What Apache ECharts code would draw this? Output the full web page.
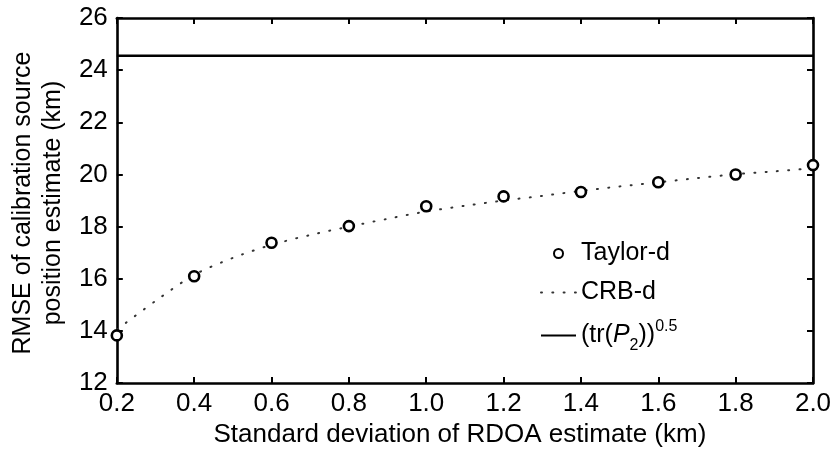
<!DOCTYPE html>
<html>
<head>
<meta charset="utf-8">
<script src="https://cdn.jsdelivr.net/npm/echarts@6/dist/echarts.min.js"></script>
<style>
html,body{margin:0;padding:0;background:#fff;}
#chart{width:835px;height:453px;}
</style>
</head>
<body>
<div id="chart"></div>
<script>
// ---- data ----
const taylorX = [0.2, 0.4, 0.6, 0.8, 1.0, 1.2, 1.4, 1.6, 1.8, 2.0];
const taylorY = [13.83, 16.1, 17.38, 18.02, 18.78, 19.16, 19.33, 19.7, 20.0, 20.36];
const crbX = [0.2, 0.3, 0.4, 0.5, 0.6, 0.7, 0.8, 0.9, 1.0, 1.1, 1.2, 1.3, 1.4, 1.5, 1.6, 1.7, 1.8, 1.9, 2.0];
const crbY = [14.05, 15.15, 16.15, 16.8, 17.3, 17.68, 18.0, 18.3, 18.58, 18.8, 19.0, 19.18, 19.37, 19.54, 19.7, 19.86, 20.01, 20.12, 20.24];
const boundX = [0.2, 2.0];
const boundValue = 24.55;
const xTicks = [0.2, 0.4, 0.6, 0.8, 1.0, 1.2, 1.4, 1.6, 1.8, 2.0];
const yTicks = [12, 14, 16, 18, 20, 22, 24, 26];
const seriesNames = ['Taylor-d', 'CRB-d', '(tr(P2))0.5'];

const FONT = 'Liberation Sans, Arial, Helvetica, sans-serif';
const chart = echarts.init(document.getElementById('chart'), null, {renderer: 'canvas'});

const axisCommon = {
  axisLine: {show: true, lineStyle: {color: '#000', width: 2.6}},
  axisTick: {show: true, inside: true, length: 6, lineStyle: {color: '#000', width: 2}},
  splitLine: {show: false}
};

const option = {
  backgroundColor: '#fff',
  animation: false,
  grid: {left: 112, right: 22, top: 18, bottom: 69, containLabel: false},
  xAxis: [
    Object.assign({
      type: 'value', min: xTicks[0], max: xTicks[xTicks.length - 1], interval: 0.2,
      name: 'Standard deviation of RDOA estimate (km)',
      nameLocation: 'middle', nameGap: 33,
      nameTextStyle: {fontSize: 26, fontFamily: FONT, color: '#000', padding: [0, 10, 0, 0]},
      axisLabel: {fontSize: 26, fontFamily: FONT, color: '#000', margin: 8,
        formatter: v => v.toFixed(1)}
    }, axisCommon),
    Object.assign({
      type: 'value', position: 'top', min: xTicks[0], max: xTicks[xTicks.length - 1], interval: 0.2,
      axisLabel: {show: false}
    }, axisCommon)
  ],
  yAxis: [
    Object.assign({
      type: 'value', min: yTicks[0], max: yTicks[yTicks.length - 1], interval: 2,
      name: 'RMSE of calibration source\nposition estimate (km)',
      nameLocation: 'middle', nameGap: 46, nameRotate: 90,
      nameTextStyle: {fontSize: 25, fontFamily: FONT, color: '#000', lineHeight: 30, padding: [0, 5, 0, 0]},
      axisLabel: {fontSize: 26, fontFamily: FONT, color: '#000', margin: 9}
    }, axisCommon),
    Object.assign({
      type: 'value', position: 'right', min: yTicks[0], max: yTicks[yTicks.length - 1], interval: 2,
      axisLabel: {show: false}
    }, axisCommon)
  ],
  legend: {
    orient: 'vertical', left: 540, top: 241, padding: 0,
    itemWidth: 35, itemHeight: 9, itemGap: 14,
    data: [
      {name: seriesNames[0]},
      {name: seriesNames[1], itemStyle: {opacity: 0}},
      {name: seriesNames[2], itemStyle: {opacity: 0}}
    ],
    textStyle: {
      fontSize: 25, fontFamily: FONT, color: '#000',
      rich: {
        i: {fontSize: 25, fontFamily: FONT, fontStyle: 'italic', color: '#000'},
        sub: {fontSize: 16, fontFamily: FONT, color: '#000', verticalAlign: 'bottom', padding: [0, 0, -6, 0]},
        sup: {fontSize: 16, fontFamily: FONT, color: '#000', verticalAlign: 'top', padding: [-4, 0, 0, 0]}
      }
    },
    formatter: function (name) {
      if (name === seriesNames[2]) return '(tr({i|P}{sub|2}))' + '{sup|0.5}';
      return name;
    }
  },
  series: [
    {
      name: seriesNames[0], type: 'scatter', xAxisIndex: 0, yAxisIndex: 0,
      symbol: 'circle', symbolSize: 10,
      itemStyle: {color: '#fff', borderColor: '#000', borderWidth: 2.6, opacity: 1},
      emphasis: {disabled: true},
      data: taylorX.map((x, i) => [x, taylorY[i]]), z: 5
    },
    {
      name: seriesNames[1], type: 'line', xAxisIndex: 0, yAxisIndex: 0,
      symbol: 'none', smooth: 0.3,
      lineStyle: {color: '#333', width: 2, type: [1, 10.3], cap: 'round'},
      itemStyle: {color: '#333'},
      data: crbX.map((x, i) => [x, crbY[i]]), z: 3
    },
    {
      name: seriesNames[2], type: 'line', xAxisIndex: 0, yAxisIndex: 0,
      symbol: 'none',
      lineStyle: {color: '#000', width: 2.6, type: 'solid'},
      itemStyle: {color: '#000'},
      data: boundX.map(x => [x, boundValue]), z: 4
    }
  ]
};
chart.setOption(option);
</script>
</body>
</html>
